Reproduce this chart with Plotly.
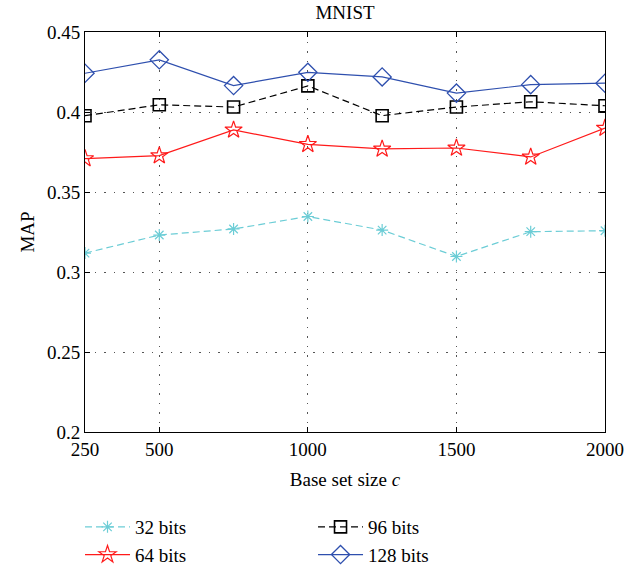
import plotly.graph_objects as go

x_vals = [250, 500, 750, 1000, 1250, 1500, 1750, 2000]
bits32 = [0.3118, 0.3231, 0.3269, 0.3347, 0.3262, 0.3097, 0.3252, 0.3258]
bits64 = [0.3709, 0.3727, 0.3888, 0.3798, 0.3769, 0.3775, 0.3719, 0.3899]
bits96 = [0.3977, 0.4045, 0.4031, 0.4163, 0.3977, 0.4031, 0.4064, 0.4039]
bits128 = [0.4242, 0.4326, 0.4165, 0.4248, 0.4219, 0.4118, 0.4171, 0.4180]

x_ticks = [250, 500, 1000, 1500, 2000]
y_ticks = [0.2, 0.25, 0.3, 0.35, 0.4, 0.45]
y_ticktext = ["0.2", "0.25", "0.3", "0.35", "0.4", "0.45"]

FONT = "Liberation Serif"

fig = go.Figure()
series = [
    ("32 bits", bits32, "#6ccdd6", "7px,4px", "asterisk-open", 10, 1.2, "legend", "a"),
    ("64 bits", bits64, "#ff1a1a", "solid", "star-open", 13, 1.2, "legend", "b"),
    ("96 bits", bits96, "#000000", "7px,4px", "square-open", 12, 1.6, "legend2", "c"),
    ("128 bits", bits128, "#2e4fae", "solid", "diamond-open", 14, 1.3, "legend2", "d"),
]
for name, ys, col, dash, sym, sz, mlw, leg, grp in series:
    fig.add_trace(go.Scatter(
        x=x_vals, y=ys, name=name, mode="lines+markers", legend=leg, legendgroup=grp,
        line=dict(color=col, width=1.2, dash=dash),
        marker=dict(symbol=sym, size=sz, color=col, line=dict(color=col, width=mlw)),
    ))

axis_common = dict(
    ticks="inside", ticklen=5, tickcolor="black",
    showline=True, linecolor="black", linewidth=1, mirror="ticks",
    showgrid=True, gridcolor="#555555", griddash="1.5px,8px", gridwidth=1,
    zeroline=False, tickfont=dict(size=19),
)

legend_common = dict(
    orientation="v", xref="paper", yref="paper",
    xanchor="left", yanchor="top", font=dict(family=FONT, size=19), tracegroupgap=0,
    itemwidth=45, bgcolor="rgba(0,0,0,0)",
)

fig.update_layout(
    width=639, height=571,
    margin=dict(l=85, r=34, t=32, b=139, autoexpand=False),
    paper_bgcolor="white", plot_bgcolor="white",
    font=dict(family=FONT, size=19, color="black"),
    title=dict(text="MNIST", x=0.5, xanchor="center", y=0.978, yanchor="middle",
               xref="paper", font=dict(family=FONT, size=19)),
    xaxis=dict(range=[250, 2000], tickvals=x_ticks,
               title=dict(text="Base set size <i>c</i>", standoff=13, font=dict(size=19)),
               **axis_common),
    yaxis=dict(range=[0.2, 0.45], tickvals=y_ticks, ticktext=y_ticktext,
               title=dict(text="MAP", standoff=7, font=dict(size=19)),
               **axis_common),
    legend=dict(x=-0.0096, y=-0.19, **legend_common),
    legend2=dict(x=0.4385, y=-0.19, **legend_common),
    showlegend=True,
)

fig.write_html("out.html")
